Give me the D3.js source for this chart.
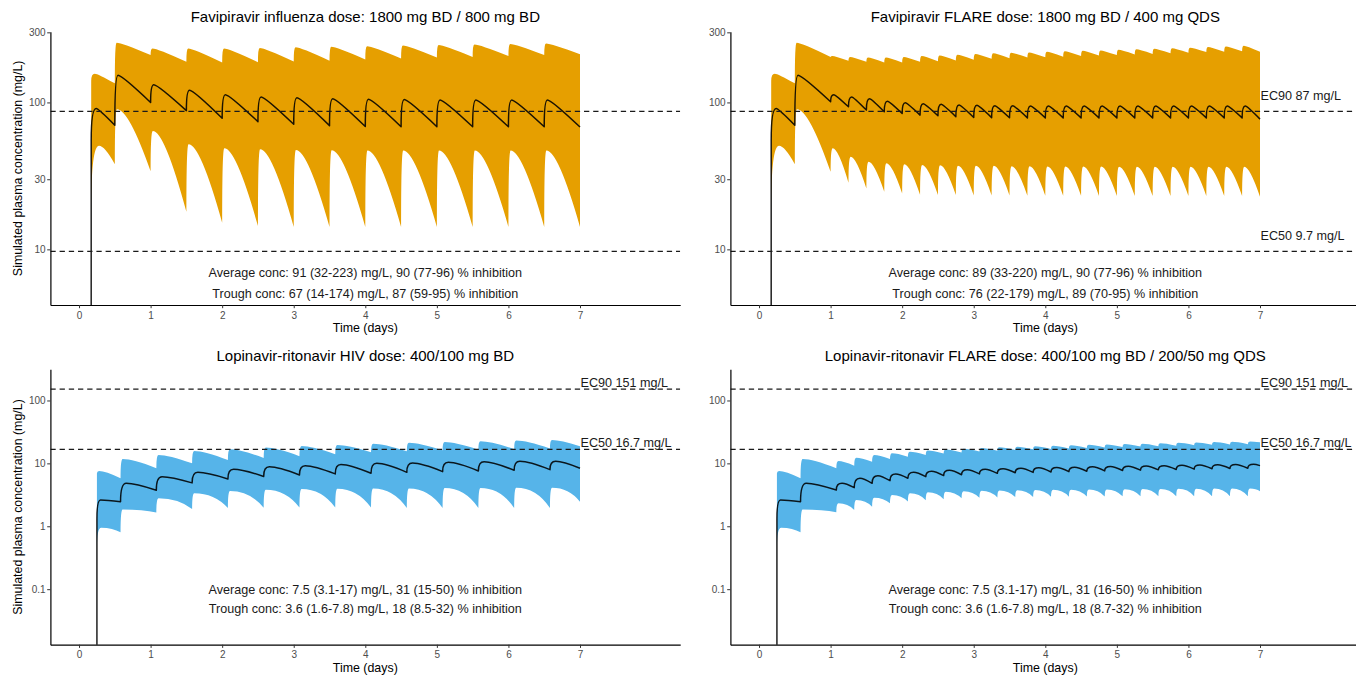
<!DOCTYPE html>
<html>
<head>
<meta charset="utf-8">
<script src="https://cdn.jsdelivr.net/npm/d3@7"></script>
<style>
  body { margin: 0; background: #fff; }
  svg { display: block; font-family: "Liberation Sans", Arial, Helvetica, sans-serif; }
</style>
</head>
<body>
<svg id="chart" width="1356" height="680"></svg>
<script>
// ---------------------------------------------------------------------------
// Simulated plasma concentration–time profiles (median + 90% band), log scale
// ---------------------------------------------------------------------------

const panelTitles = [
  "Favipiravir influenza dose: 1800 mg BD / 800 mg BD",
  "Favipiravir FLARE dose: 1800 mg BD / 400 mg QDS",
  "Lopinavir-ritonavir HIV dose: 400/100 mg BD",
  "Lopinavir-ritonavir FLARE dose: 400/100 mg BD / 200/50 mg QDS"
];
const avgTexts = [
  "Average conc: 91 (32-223) mg/L, 90 (77-96) % inhibition",
  "Average conc: 89 (33-220) mg/L, 90 (77-96) % inhibition",
  "Average conc: 7.5 (3.1-17) mg/L, 31 (15-50) % inhibition",
  "Average conc: 7.5 (3.1-17) mg/L, 31 (16-50) % inhibition"
];
const troughTexts = [
  "Trough conc: 67 (14-174) mg/L, 87 (59-95) % inhibition",
  "Trough conc: 76 (22-179) mg/L, 89 (70-95) % inhibition",
  "Trough conc: 3.6 (1.6-7.8) mg/L, 18 (8.5-32) % inhibition",
  "Trough conc: 3.6 (1.6-7.8) mg/L, 18 (8.7-32) % inhibition"
];

// Effective concentrations (mg/L)
const favEcValues = [87, 9.7];
const favEcLabels = ["EC90 87 mg/L", "EC50 9.7 mg/L"];
const lpvEcValues = [151, 16.7];
const lpvEcLabels = ["EC90 151 mg/L", "EC50 16.7 mg/L"];

// Axis ticks
const timeTicks = [0, 1, 2, 3, 4, 5, 6, 7];
const favConcTicks = [10, 30, 100, 300];
const lpvConcTicks = [0.1, 1, 10, 100];

// Dosing times (days) and end of simulation
const endTime = 7;
const favInfDoses = [0.17, 0.5, 1, 1.5, 2, 2.5, 3, 3.5, 4, 4.5, 5, 5.5, 6, 6.5];
const favFlareDoses = [0.17, 0.5, 1, 1.25, 1.5, 1.75, 2, 2.25, 2.5, 2.75, 3, 3.25, 3.5,
  3.75, 4, 4.25, 4.5, 4.75, 5, 5.25, 5.5, 5.75, 6, 6.25, 6.5, 6.75];
const lpvHivDoses = [0.25, 0.58, 1.08, 1.58, 2.08, 2.58, 3.08, 3.58, 4.08, 4.58, 5.08, 5.58, 6.08, 6.58];
const lpvFlareDoses = [0.25, 0.58, 1.08, 1.33, 1.58, 1.83, 2.08, 2.33, 2.58, 2.83, 3.08, 3.33,
  3.58, 3.83, 4.08, 4.33, 4.58, 4.83, 5.08, 5.33, 5.58, 5.83, 6.08, 6.33, 6.58, 6.83];

// Favipiravir influenza regimen: value at start, peak after each dose, trough before next dose (mg/L)
const favInfMedianStart = 55;
const favInfMedianPeaks = [91, 153, 132, 121, 113, 109, 107.5, 106, 105, 104.5, 104, 104, 104, 104];
const favInfMedianTroughs = [70, 100, 88, 78, 74, 71, 69.5, 68.5, 68.3, 68.3, 68.3, 68.3, 68.3, 68];
const favInfUpperStart = 140;
const favInfUpperPeaks = [157, 255, 233, 233, 233, 235, 237, 239, 241, 244, 246, 248, 250, 252];
const favInfUpperTroughs = [135, 210, 189, 187, 188, 190, 192, 196, 199, 202, 204, 207, 210, 213];
const favInfLowerStart = 18.5;
const favInfLowerPeaks = [50.7, 90, 64, 52, 48.7, 48, 47.5, 47.3, 47, 47, 47, 47, 47, 47];
const favInfLowerTroughs = [38, 34, 18, 15.2, 14.4, 14.2, 14.2, 14.2, 14.2, 14.2, 14.2, 14.2, 14.2, 14.2];

// Favipiravir FLARE regimen
const favFlareMedianStart = 55;
const favFlareMedianPeaks = [91, 153, 113, 109, 106, 102, 99.5, 98, 97, 96, 95.5, 95, 95, 94.5,
  94.5, 94.5, 94.5, 94.5, 94.5, 94.5, 94.5, 94.5, 94.5, 94.5, 94.5, 94.5];
const favFlareMedianTroughs = [70, 101, 93.4, 88.7, 86.4, 84.2, 82, 81.2, 80, 79, 78.8, 78.6, 78.5,
  78.5, 78.5, 78.5, 78.5, 78.5, 78.5, 78.5, 78.5, 78.5, 78.5, 78.5, 78.5, 77];
const favFlareUpperStart = 140;
const favFlareUpperPeaks = [157, 255, 207, 204, 202, 202, 204, 207, 209, 211, 214, 216, 218, 219,
  221, 223, 225, 226, 228, 230, 232, 234, 236, 238, 240, 243];
const favFlareUpperTroughs = [135, 204, 192, 189, 187, 187, 189, 191, 193, 195, 198, 200, 202, 203,
  205, 207, 209, 210, 212, 214, 216, 218, 220, 221, 223, 221];
const favFlareLowerStart = 18.5;
const favFlareLowerPeaks = [50.7, 90, 48.7, 42.7, 39.5, 38.5, 38, 37.5, 37.3, 37, 37, 37, 36.8, 36.8,
  36.7, 36.7, 36.6, 36.6, 36.5, 36.5, 36.5, 36.5, 36.5, 36.5, 36.5, 36.5];
const favFlareLowerTroughs = [38, 33.7, 28.4, 26, 24.7, 24, 23.5, 23.4, 23.4, 23.3, 23.3, 23.3, 23.2,
  23.2, 23.2, 23.2, 23.1, 23.1, 23.1, 23.1, 23.1, 23.1, 23.1, 23.1, 23.1, 22.8];

// Lopinavir-ritonavir HIV regimen
const lpvHivMedianStart = 1.3;
const lpvHivMedianPeaks = [2.62, 4.85, 6.15, 7.2, 8.05, 8.8, 9.2, 9.6, 10.0, 10.1, 10.4, 10.6, 10.8, 10.8];
const lpvHivMedianTroughs = [2.46, 3.75, 4.9, 5.65, 6.2, 6.55, 6.8, 6.96, 7.2, 7.38, 7.57, 7.76, 7.95, 8.36];
const lpvHivUpperStart = 6.9;
const lpvHivUpperPeaks = [7.57, 11.7, 13.6, 15.7, 16.7, 17.8, 18.9, 19.6, 20.5, 21.2, 21.8, 22.4, 23.0, 23.5];
const lpvHivUpperTroughs = [5.8, 8.4, 10.0, 11.3, 12.2, 13.0, 14.0, 15.0, 15.6, 16.1, 16.5, 16.9, 17.3, 18.8];
const lpvHivLowerStart = 0.45;
const lpvHivLowerPeaks = [0.95, 1.85, 2.8, 3.35, 3.65, 3.8, 3.9, 3.95, 4.0, 4.0, 4.05, 4.05, 4.1, 4.1];
const lpvHivLowerTroughs = [0.8, 1.66, 1.88, 1.95, 1.97, 1.98, 1.98, 1.98, 1.95, 1.95, 1.95, 1.95, 1.95, 2.46];

// Lopinavir-ritonavir FLARE regimen
const lpvFlareMedianStart = 1.3;
const lpvFlareMedianPeaks = [2.62, 4.85, 4.82, 5.8, 6.38, 6.78, 7.2, 7.5, 7.75, 7.95, 8.1, 8.25, 8.4,
  8.5, 8.6, 8.7, 8.8, 8.9, 9.0, 9.1, 9.2, 9.3, 9.4, 9.5, 9.6, 9.65];
const lpvFlareMedianTroughs = [2.46, 3.77, 4.11, 4.82, 5.31, 5.8, 6.15, 6.4, 6.6, 6.8, 6.95, 7.1, 7.2,
  7.3, 7.4, 7.5, 7.6, 7.7, 7.8, 7.9, 8.0, 8.1, 8.2, 8.3, 8.35, 9.2];
const lpvFlareUpperStart = 6.9;
const lpvFlareUpperPeaks = [7.57, 11.7, 10.9, 12.3, 13.6, 14.5, 15.35, 16.0, 16.6, 17.1, 17.6, 18.0,
  18.4, 18.8, 19.1, 19.4, 19.7, 20.0, 20.3, 20.6, 20.9, 21.2, 21.5, 21.8, 22.0, 22.2];
const lpvFlareUpperTroughs = [5.8, 8.35, 9.2, 10.66, 11.75, 12.8, 13.6, 14.3, 14.9, 15.4, 15.9, 16.3,
  16.7, 17.0, 17.3, 17.6, 17.9, 18.2, 18.5, 18.8, 19.1, 19.4, 19.7, 20.0, 20.2, 21.6];
const lpvFlareLowerStart = 0.45;
const lpvFlareLowerPeaks = [0.95, 1.85, 2.32, 2.62, 2.85, 3.15, 3.35, 3.47, 3.55, 3.62, 3.68, 3.72,
  3.75, 3.78, 3.8, 3.82, 3.84, 3.86, 3.88, 3.9, 3.92, 3.94, 3.96, 3.98, 4.0, 4.0];
const lpvFlareLowerTroughs = [0.8, 1.67, 1.82, 2.05, 2.32, 2.47, 2.6, 2.7, 2.78, 2.84, 2.88, 2.91,
  2.93, 2.95, 2.96, 2.97, 2.98, 2.99, 3.0, 3.0, 3.0, 3.0, 3.0, 3.0, 3.0, 3.6];

// ---------------------------------------------------------------------------
// Layout and style
// ---------------------------------------------------------------------------
const W = 1356, H = 680;
const favColor = "#E69F00";
const lpvColor = "#56B4E9";
const xDomain = [-0.4, 8.4];
const colX = [[50.4, 680.2], [730.4, 1360.2]];
const rowY = [
  { range: [305, 31.7], domain: [4.18, 303] },
  { range: [644.7, 369.3], domain: [0.0131, 313] }
];
// firstRise/rise: time from dose to peak; bend: how long the curve holds near the peak
const favShape = {
  median: { firstRise: 0.07, rise: 0.045, bend: 0.12 },
  upper: { firstRise: 0.05, rise: 0.025, bend: 0.15 },
  lower: { firstRise: 0.11, rise: 0.03, bend: 0.35 }
};
const lpvShape = {
  median: { firstRise: 0.05, rise: 0.08, bend: 0.3 },
  upper: { firstRise: 0.03, rise: 0.03, bend: 0.3 },
  lower: { firstRise: 0.06, rise: 0.03, bend: 0.6 }
};

const edge = (start, peaks, troughs) => ({ start, peaks, troughs });

const panels = [
  { col: 0, row: 0, title: panelTitles[0], avg: avgTexts[0], trough: troughTexts[0],
    color: favColor, shape: favShape, doses: favInfDoses, ticks: favConcTicks,
    ecValues: favEcValues, ecLabels: null, yTitle: true,
    median: edge(favInfMedianStart, favInfMedianPeaks, favInfMedianTroughs),
    upper: edge(favInfUpperStart, favInfUpperPeaks, favInfUpperTroughs),
    lower: edge(favInfLowerStart, favInfLowerPeaks, favInfLowerTroughs),
    textAt: [7, 5] },
  { col: 1, row: 0, title: panelTitles[1], avg: avgTexts[1], trough: troughTexts[1],
    color: favColor, shape: favShape, doses: favFlareDoses, ticks: favConcTicks,
    ecValues: favEcValues, ecLabels: favEcLabels, yTitle: false,
    median: edge(favFlareMedianStart, favFlareMedianPeaks, favFlareMedianTroughs),
    upper: edge(favFlareUpperStart, favFlareUpperPeaks, favFlareUpperTroughs),
    lower: edge(favFlareLowerStart, favFlareLowerPeaks, favFlareLowerTroughs),
    textAt: [7, 5] },
  { col: 0, row: 1, title: panelTitles[2], avg: avgTexts[2], trough: troughTexts[2],
    color: lpvColor, shape: lpvShape, doses: lpvHivDoses, ticks: lpvConcTicks,
    ecValues: lpvEcValues, ecLabels: lpvEcLabels, yTitle: true,
    median: edge(lpvHivMedianStart, lpvHivMedianPeaks, lpvHivMedianTroughs),
    upper: edge(lpvHivUpperStart, lpvHivUpperPeaks, lpvHivUpperTroughs),
    lower: edge(lpvHivLowerStart, lpvHivLowerPeaks, lpvHivLowerTroughs),
    textAt: [0.1, 0.05] },
  { col: 1, row: 1, title: panelTitles[3], avg: avgTexts[3], trough: troughTexts[3],
    color: lpvColor, shape: lpvShape, doses: lpvFlareDoses, ticks: lpvConcTicks,
    ecValues: lpvEcValues, ecLabels: lpvEcLabels, yTitle: false,
    median: edge(lpvFlareMedianStart, lpvFlareMedianPeaks, lpvFlareMedianTroughs),
    upper: edge(lpvFlareUpperStart, lpvFlareUpperPeaks, lpvFlareUpperTroughs),
    lower: edge(lpvFlareLowerStart, lpvFlareLowerPeaks, lpvFlareLowerTroughs),
    textAt: [0.1, 0.05] }
];

// ---------------------------------------------------------------------------
// Curve geometry: rise after each dose, then decline to the next trough
// ---------------------------------------------------------------------------
function edgeSegments(doses, end, e, shape, floor) {
  const segs = [];
  let cur = [doses[0], e.start];
  if (floor !== undefined) segs.push({ from: [doses[0], floor], to: cur });
  doses.forEach((d, i) => {
    const tn = i < doses.length - 1 ? doses[i + 1] : end;
    const tp = d + (i === 0 ? shape.firstRise : shape.rise);
    const p = e.peaks[i];
    segs.push({ from: cur, c: [d, p], to: [tp, p] });
    const to = [tn, e.troughs[i]];
    segs.push({ from: [tp, p], c: [tp + shape.bend * (tn - tp), p], to });
    cur = to;
  });
  return segs;
}

function traceForward(ctx, segs, P, move) {
  const s0 = P(segs[0].from);
  if (move) ctx.moveTo(s0[0], s0[1]); else ctx.lineTo(s0[0], s0[1]);
  segs.forEach(s => {
    const t = P(s.to);
    if (s.c) { const c = P(s.c); ctx.quadraticCurveTo(c[0], c[1], t[0], t[1]); }
    else ctx.lineTo(t[0], t[1]);
  });
}

function traceBackward(ctx, segs, P) {
  const last = P(segs[segs.length - 1].to);
  ctx.lineTo(last[0], last[1]);
  for (let i = segs.length - 1; i >= 0; i--) {
    const s = segs[i];
    const f = P(s.from);
    if (s.c) { const c = P(s.c); ctx.quadraticCurveTo(c[0], c[1], f[0], f[1]); }
    else ctx.lineTo(f[0], f[1]);
  }
}

// ---------------------------------------------------------------------------
// Drawing
// ---------------------------------------------------------------------------
const svg = d3.select("#chart");
svg.append("rect").attr("width", W).attr("height", H).attr("fill", "#fff");
const defs = svg.append("defs");

panels.forEach((pn, idx) => {
  const xr = colX[pn.col];
  const yr = rowY[pn.row];
  const x = d3.scaleLinear().domain(xDomain).range(xr);
  const y = d3.scaleLog().domain(yr.domain).range(yr.range);
  const P = pt => [x(pt[0]), y(pt[1])];
  const top = yr.range[1], bottom = yr.range[0];
  const g = svg.append("g");

  const clipId = "plot-clip-" + idx;
  defs.append("clipPath").attr("id", clipId)
    .append("rect").attr("x", xr[0]).attr("y", top)
    .attr("width", xr[1] - xr[0]).attr("height", bottom - top);
  const plot = g.append("g").attr("clip-path", `url(#${clipId})`);

  // 90% prediction band
  const upSegs = edgeSegments(pn.doses, endTime, pn.upper, pn.shape.upper);
  const loSegs = edgeSegments(pn.doses, endTime, pn.lower, pn.shape.lower);
  const band = d3.path();
  traceForward(band, upSegs, P, true);
  traceBackward(band, loSegs, P);
  band.closePath();
  plot.append("path").attr("d", band.toString()).attr("fill", pn.color).attr("stroke", "none");

  // Median profile (rises from below the axis at the first dose)
  const medSegs = edgeSegments(pn.doses, endTime, pn.median, pn.shape.median, yr.domain[0] * 0.5);
  const med = d3.path();
  traceForward(med, medSegs, P, true);
  plot.append("path").attr("d", med.toString())
    .attr("fill", "none").attr("stroke", "#000").attr("stroke-opacity", 0.88)
    .attr("stroke-width", 1.5).attr("stroke-linejoin", "round");

  // Effective concentration reference lines
  plot.selectAll("line.ec").data(pn.ecValues).join("line")
    .attr("class", "ec")
    .attr("x1", xr[0]).attr("x2", xr[1])
    .attr("y1", d => y(d)).attr("y2", d => y(d))
    .attr("stroke", "#1a1a1a").attr("stroke-width", 1.25)
    .attr("stroke-dasharray", "5.3,3.9");

  if (pn.ecLabels) {
    g.selectAll("text.ec").data(pn.ecValues).join("text")
      .attr("class", "ec")
      .attr("x", x(7) + 0.5)
      .attr("y", d => y(d * 1.27))
      .attr("dy", "0.35em")
      .attr("font-size", 12.6).attr("fill", "#1a1a1a")
      .text((d, i) => pn.ecLabels[i]);
  }

  // Summary annotations
  g.selectAll("text.note").data([pn.avg, pn.trough]).join("text")
    .attr("class", "note")
    .attr("x", x(4))
    .attr("y", (d, i) => y(pn.textAt[i]))
    .attr("dy", "0.35em")
    .attr("text-anchor", "middle")
    .attr("font-size", 12.6).attr("fill", "#1a1a1a")
    .text(d => d);

  // Axes
  const xAxis = d3.axisBottom(x).tickValues(timeTicks).tickSize(3.2).tickSizeOuter(0).tickPadding(3.3);
  const yAxis = d3.axisLeft(y).tickValues(pn.ticks).tickSize(3.2).tickSizeOuter(0).tickPadding(1.6)
    .tickFormat(d => String(d));
  const gx = g.append("g").attr("transform", `translate(0,${bottom})`).call(xAxis);
  const gy = g.append("g").attr("transform", `translate(${xr[0]},0)`).call(yAxis);
  [gx, gy].forEach(a => {
    a.select(".domain").attr("stroke", "#000").attr("stroke-width", 1.2);
    a.selectAll(".tick line").attr("stroke", "#333").attr("stroke-width", 1);
    a.selectAll(".tick text").attr("fill", "#4d4d4d").attr("font-size", 10)
      .attr("font-family", "Liberation Sans, Arial, sans-serif");
  });

  // Titles
  g.append("text").attr("x", x(4)).attr("y", pn.row === 0 ? 21.5 : 360.7)
    .attr("text-anchor", "middle").attr("font-size", 15).attr("fill", "#000")
    .text(pn.title);
  g.append("text").attr("x", x(4)).attr("y", bottom + 27.3)
    .attr("text-anchor", "middle").attr("font-size", 12.4).attr("fill", "#000")
    .text("Time (days)");
  if (pn.yTitle) {
    const cy = (top + bottom) / 2;
    g.append("text").attr("transform", `translate(21.5,${cy}) rotate(-90)`)
      .attr("text-anchor", "middle").attr("font-size", 12.4).attr("fill", "#000")
      .text("Simulated plasma concentration (mg/L)");
  }
});
</script>
</body>
</html>
